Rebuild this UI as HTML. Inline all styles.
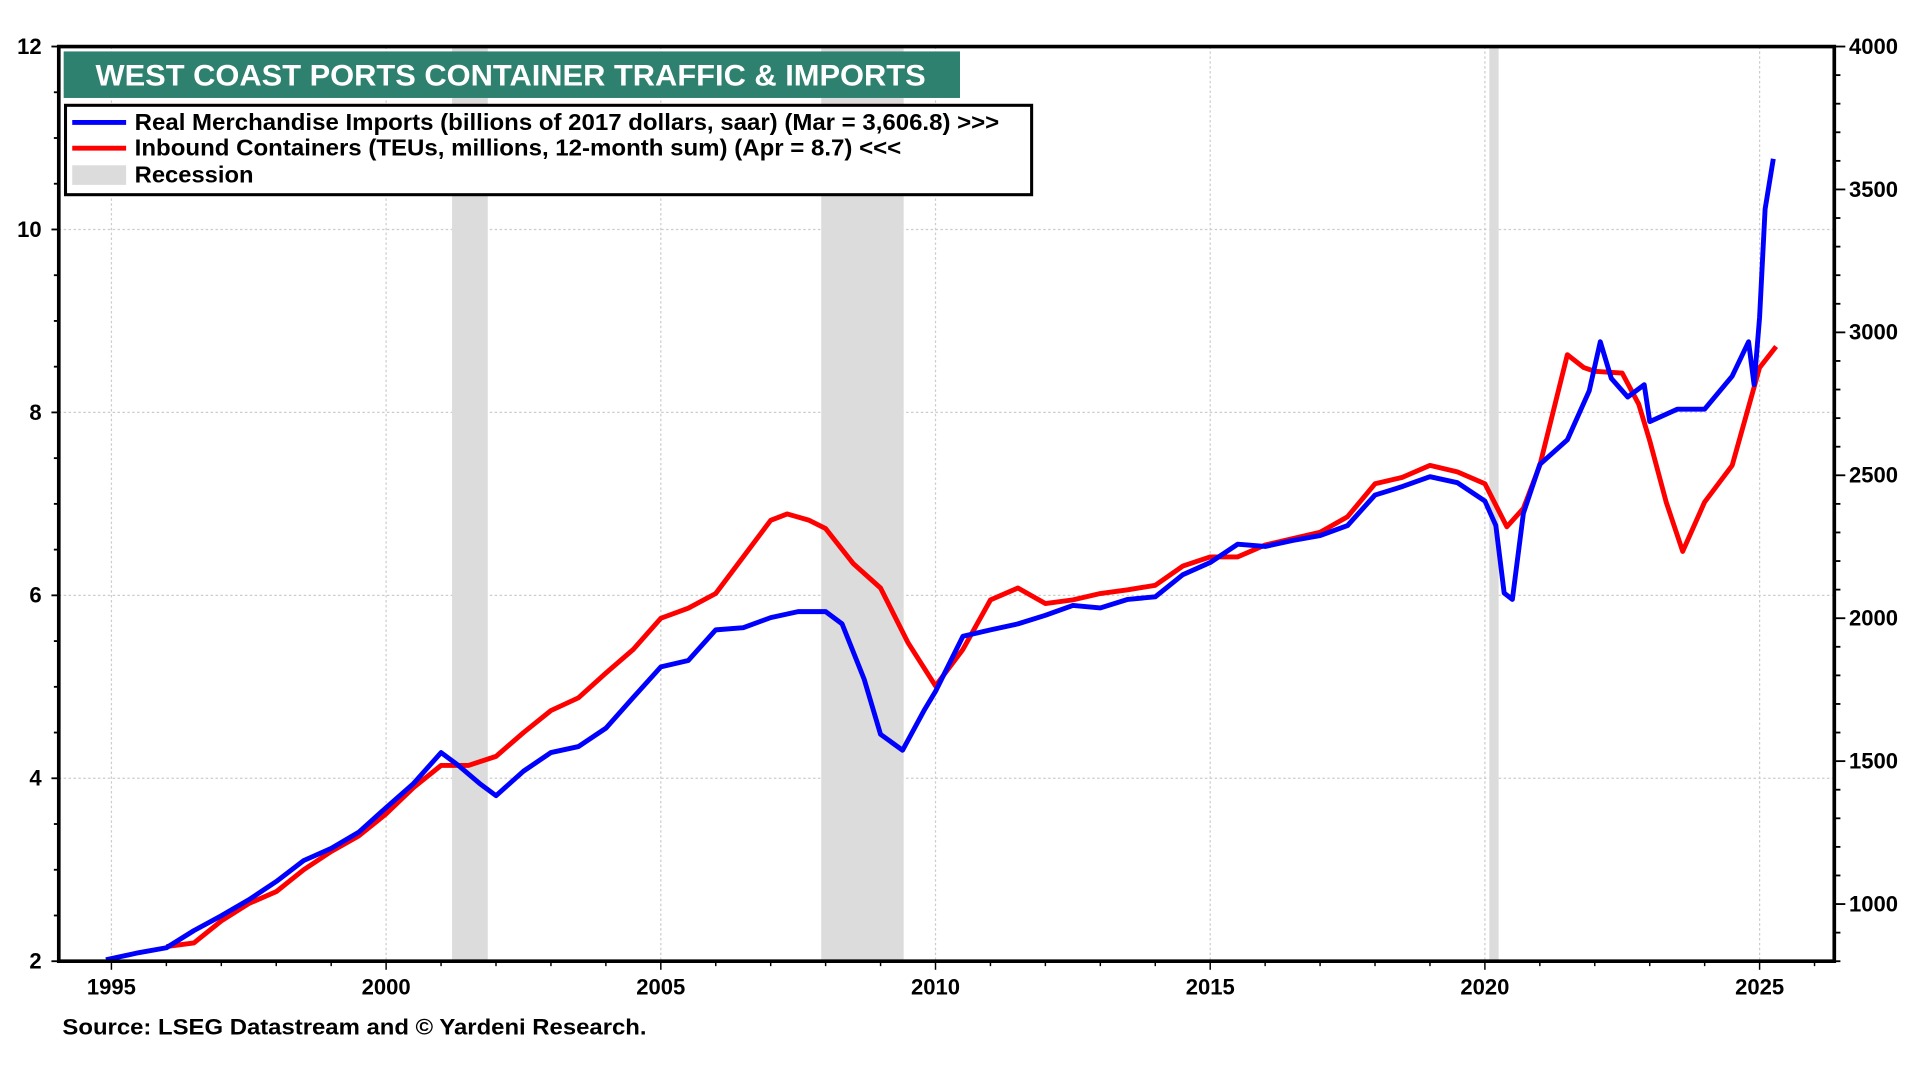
<!DOCTYPE html>
<html><head><meta charset="utf-8"><style>
html,body{margin:0;padding:0;background:#fff;}
svg{display:block;font-family:"Liberation Sans",Arial,sans-serif;}
</style></head><body>
<svg id="chart" width="1920" height="1080" viewBox="0 0 1568 882" xmlns="http://www.w3.org/2000/svg">
<g id="grid"></g>
<g id="rec"></g>
<g id="series"></g>
<g id="axes"></g>
<rect x="52" y="42" width="732" height="38" fill="#2e806f"/>
<text x="78" y="70" textLength="678" lengthAdjust="spacingAndGlyphs" fill="#fff" font-size="24" font-weight="bold">WEST COAST PORTS CONTAINER TRAFFIC &amp; IMPORTS</text>
<g>
<rect x="53.5" y="86" width="789" height="73" fill="#fff" stroke="#000" stroke-width="2.5"/>
<line x1="59" y1="100" x2="103" y2="100" stroke="#0000ff" stroke-width="4"/>
<text x="110" y="106" textLength="706" lengthAdjust="spacingAndGlyphs" font-size="19" font-weight="bold">Real Merchandise Imports (billions of 2017 dollars, saar) (Mar = 3,606.8) &gt;&gt;&gt;</text>
<line x1="59" y1="121" x2="103" y2="121" stroke="#ff0000" stroke-width="4"/>
<text x="110" y="127" textLength="626" lengthAdjust="spacingAndGlyphs" font-size="19" font-weight="bold">Inbound Containers (TEUs, millions, 12-month sum) (Apr = 8.7) &lt;&lt;&lt;</text>
<rect x="59" y="135" width="44" height="16" fill="#dcdcdc"/>
<text x="110" y="149" textLength="97" lengthAdjust="spacingAndGlyphs" font-size="19" font-weight="bold">Recession</text>
</g>
<text x="51" y="845" textLength="477" lengthAdjust="spacingAndGlyphs" font-size="18" font-weight="bold">Source: LSEG Datastream and © Yardeni Research.</text>
</svg>
<script>
var leftTicks=[2,4,6,8,10,12];
var rightTicks=[1000,1500,2000,2500,3000,3500,4000];
var yearTicks=[1995,2000,2005,2010,2015,2020,2025];
var recessions=[[2001.2,2001.85],[2007.92,2009.42],[2020.08,2020.25]];
var importsX=[1994.9,1995.5,1996.0,1996.5,1997.0,1997.5,1998.0,1998.5,1999.0,1999.5,2000.0,2000.5,2001.0,2001.3,2001.7,2002.0,2002.5,2003.0,2003.5,2004.0,2004.5,2005.0,2005.5,2006.0,2006.5,2007.0,2007.5,2008.0,2008.3,2008.7,2009.0,2009.4,2009.8,2010.0,2010.5,2011.0,2011.5,2012.0,2012.5,2013.0,2013.5,2014.0,2014.5,2015.0,2015.5,2016.0,2016.5,2017.0,2017.5,2018.0,2018.5,2019.0,2019.5,2020.0,2020.2,2020.35,2020.5,2020.7,2021.0,2021.5,2021.9,2022.1,2022.3,2022.6,2022.9,2023.0,2023.5,2024.0,2024.5,2024.8,2024.9,2025.0,2025.1,2025.25];
var importsV=[805,830,847,907,959,1015,1079,1152,1195,1251,1337,1422,1530,1487,1422,1379,1465,1530,1551,1615,1723,1830,1852,1959,1967,2002,2023,2023,1980,1787,1594,1538,1680,1744,1937,1959,1980,2010,2045,2036,2066,2075,2152,2195,2259,2251,2272,2289,2324,2431,2461,2495,2474,2410,2324,2088,2066,2367,2538,2624,2796,2967,2839,2774,2817,2688,2731,2731,2847,2967,2817,3053,3431,3607];
var contX=[1996.0,1996.5,1997.0,1997.5,1998.0,1998.5,1999.0,1999.5,2000.0,2000.5,2001.0,2001.5,2002.0,2002.5,2003.0,2003.5,2004.0,2004.5,2005.0,2005.5,2006.0,2006.5,2007.0,2007.3,2007.7,2008.0,2008.5,2009.0,2009.5,2010.0,2010.5,2011.0,2011.5,2012.0,2012.5,2013.0,2013.5,2014.0,2014.5,2015.0,2015.5,2016.0,2016.5,2017.0,2017.5,2018.0,2018.5,2019.0,2019.5,2020.0,2020.4,2020.7,2021.0,2021.5,2021.8,2022.0,2022.5,2022.8,2023.0,2023.3,2023.6,2024.0,2024.5,2025.0,2025.3];
var contV=[2.16,2.2,2.44,2.63,2.76,3.0,3.2,3.37,3.61,3.9,4.14,4.14,4.24,4.5,4.74,4.88,5.15,5.41,5.75,5.86,6.02,6.42,6.82,6.89,6.82,6.73,6.35,6.08,5.48,5.01,5.41,5.95,6.08,5.91,5.95,6.02,6.06,6.11,6.32,6.42,6.42,6.55,6.62,6.69,6.86,7.22,7.29,7.42,7.35,7.22,6.75,6.95,7.42,8.63,8.49,8.45,8.43,8.09,7.69,7.02,6.48,7.02,7.42,8.49,8.72];
var L=48,R=1498,T=38,B=785;
function xs(y){return 91+(y-1995)*(1437-91)/30;}
function yl(v){return B-(v-2)*(B-T)/10;}
function yr(v){return B-(v-800)*(B-T)/3200;}
var NS="http://www.w3.org/2000/svg";
function mk(tag,attrs,parent){var e=document.createElementNS(NS,tag);for(var k in attrs)e.setAttribute(k,attrs[k]);parent.appendChild(e);return e;}
var grid=document.getElementById('grid'),rec=document.getElementById('rec'),ser=document.getElementById('series'),ax=document.getElementById('axes');
yearTicks.forEach(function(y){var g=mk('line',{x1:xs(y),x2:xs(y),y1:T,y2:B,stroke:'#ccc','stroke-width':1,'stroke-dasharray':'2,2'},grid);

});
leftTicks.forEach(function(v){var g=mk('line',{x1:L,x2:R,y1:yl(v),y2:yl(v),stroke:'#ccc','stroke-width':1,'stroke-dasharray':'2,2'},grid);

});
recessions.forEach(function(r){var e=mk('rect',{x:xs(r[0]),y:T,width:xs(r[1])-xs(r[0]),height:B-T,fill:'#dcdcdc'},rec);

});
function line(xv,yv,f,c,name){var d='';for(var i=0;i<xv.length;i++)d+=(i?'L':'M')+xs(xv[i]).toFixed(1)+','+f(yv[i]).toFixed(1);
var p=mk('path',{d:d,fill:'none',stroke:c,'stroke-width':4,'stroke-linejoin':'round'},ser);

}
line(contX,contV,yl,'#ff0000','containers-line');
line(importsX,importsV,yr,'#0000ff','imports-line');
var fr=mk('path',{d:'M'+L+','+T+'H'+R+'V'+B+'H'+L+'Z',fill:'none',stroke:'#000','stroke-width':3},ax);


for(var v=2;v<=12;v+=0.5){mk('line',{x1:L-(v%2==0?6:4),x2:L,y1:yl(v),y2:yl(v),stroke:'#000','stroke-width':1.5},ax);}
leftTicks.forEach(function(v){var t=mk('text',{x:L-14,y:yl(v)+6,'text-anchor':'end','font-size':18,'font-weight':'bold'},ax);t.textContent=v;

});
for(var w=800;w<=4000;w+=100){mk('line',{x1:R,x2:R+(w%500==0?9:5),y1:yr(w),y2:yr(w),stroke:'#000','stroke-width':1.5},ax);}
rightTicks.forEach(function(v){var t=mk('text',{x:R+12,y:yr(v)+6,'font-size':18,'font-weight':'bold'},ax);t.textContent=v;

});
for(var y=1994;y<=2026;y++){if(xs(y)>L&&xs(y)<R)mk('line',{x1:xs(y),x2:xs(y),y1:B,y2:B+(y%5==0?7:4),stroke:'#000','stroke-width':1.2},ax);}
yearTicks.forEach(function(y){var t=mk('text',{x:xs(y),y:B+27,'text-anchor':'middle','font-size':18,'font-weight':'bold'},ax);t.textContent=y;

});
</script>
</body></html>
